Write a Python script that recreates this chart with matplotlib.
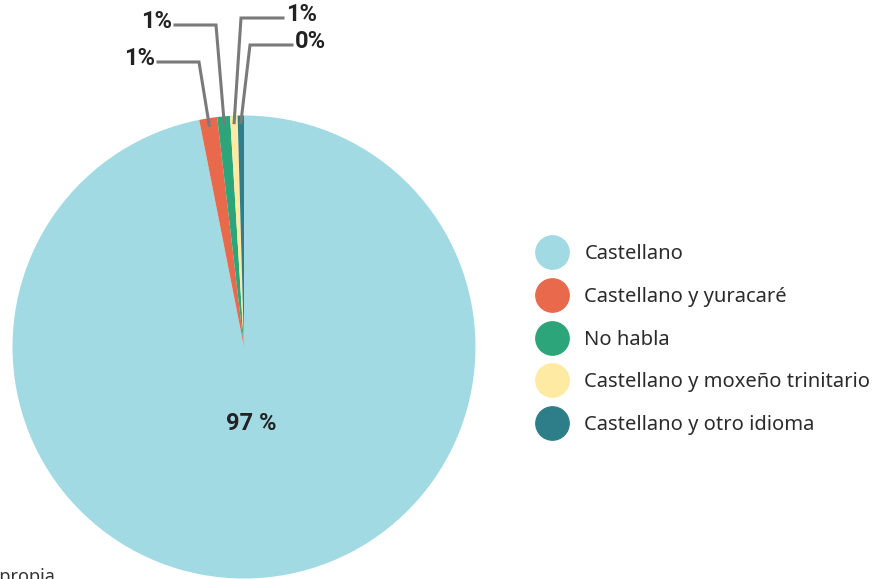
import numpy as np
import matplotlib
matplotlib.use("Agg")
import matplotlib.pyplot as plt
from matplotlib.lines import Line2D

# Datos
categorias = ['Castellano', 'Castellano y yuracaré', 'No habla',
              'Castellano y moxeño trinitario', 'Castellano y otro idioma']
valores = [96.9, 1.25, 0.89, 0.52, 0.44]
colores = ['#a2dae4', '#e8694b', '#2ca57a', '#feeaa2', '#2e7e8a']

W, H = 876, 579
fig = plt.figure(figsize=(W / 100, H / 100), dpi=100)

# pie centrado en (244, 347) px, radio 231.5 px
cx, cy, R = 244, 347, 231.5
ax = fig.add_axes([(cx - R) / W, (H - cy - R) / H, 2 * R / W, 2 * R / H])

wedges, _ = ax.pie(valores, colors=colores, startangle=90, counterclock=False,
                   radius=1, wedgeprops=dict(linewidth=0))
ax.set_xlim(-1, 1)
ax.set_ylim(-1, 1)
ax.set_aspect('equal')
ax.axis('off')
for w in wedges:
    w.set_clip_on(False)


def px(x, y):
    # pixeles -> coordenadas de datos
    return (x - cx) / R, (cy - y) / R


lbl_font = dict(fontsize=17, fontweight='bold', color='#222222',
                family=['Roboto', 'DejaVu Sans'])

# porcentaje grande dentro
w0 = wedges[0]
ang = np.deg2rad((w0.theta1 + w0.theta2) / 2)
ax.text(0.33 * np.cos(ang), 0.33 * np.sin(ang), f'{round(valores[0])} %',
        ha='center', va='center', **lbl_font)

# etiquetas con guias: (codo x, codo y, fin x) en px
guias = [(199, 62, 158), (216, 25, 175), (241, 18, 283), (250, 45, 292)]
for w, v, (ex, ey, fx) in zip(wedges[1:], valores[1:], guias):
    a = np.deg2rad((w.theta1 + w.theta2) / 2)
    x0, y0 = 0.97 * np.cos(a), 0.97 * np.sin(a)
    x1, y1 = px(ex, ey)
    x2, _ = px(fx, ey)
    ax.plot([x0, x1, x2], [y0, y1, y1], color='#7a7a7a', lw=2.2,
            solid_joinstyle='miter', clip_on=False)
    if fx < ex:
        ax.text(x2 - 3 / R, y1 + 3 / R, f'{round(v)}%', ha='right', va='center',
                clip_on=False, **lbl_font)
    else:
        ax.text(x2 + 3 / R, y1 + 3 / R, f'{round(v)}%', ha='left', va='center',
                clip_on=False, **lbl_font)

# Leyenda
handles = [Line2D([], [], marker='o', linestyle='', markersize=24,
                  markerfacecolor=c, markeredgecolor=c) for c in colores]
leg = fig.legend(handles, categorias, loc='upper left',
                 bbox_to_anchor=(530 / W, 1 - 234 / H), frameon=False,
                 prop=dict(family=['Noto Sans', 'DejaVu Sans'], size=14.5),
                 labelspacing=1.13, handlelength=1.2, handletextpad=1.0,
                 borderpad=0)
for t in leg.get_texts():
    t.set_color('#2b2b2b')

# nota cortada abajo
fig.text(55 / W, 1 - 568 / H, 'Fuente: elaboración propia', ha='right', va='top',
         fontsize=13, color='#333333', family=['Noto Sans', 'DejaVu Sans'])

fig.savefig('out.png', dpi=100)
